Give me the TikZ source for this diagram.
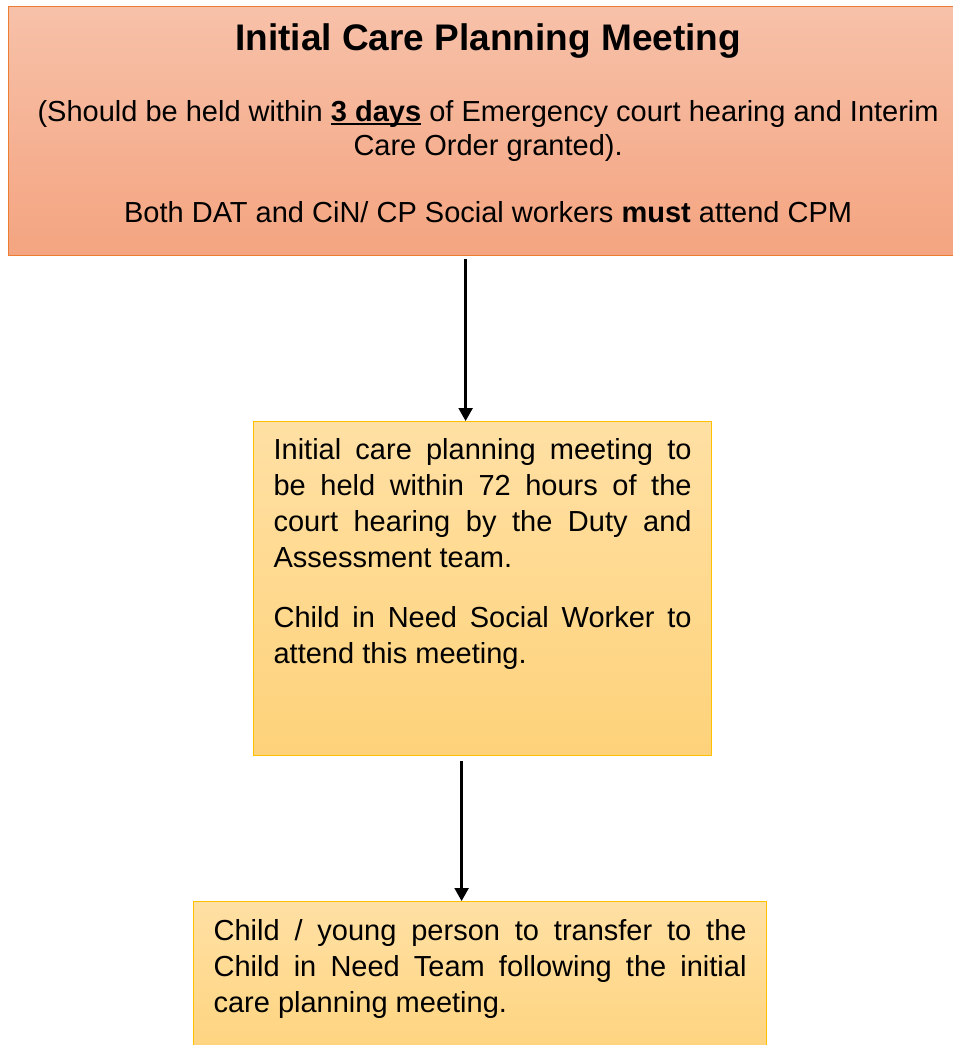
\documentclass[tikz,border=0pt]{standalone}
\usepackage{fontspec}
\setmainfont{Liberation Sans}
\usetikzlibrary{positioning,arrows.meta}
\definecolor{CPMLine}{HTML}{ED7D31}
\definecolor{CPMTop}{HTML}{F7C1A9}
\definecolor{CPMBottom}{HTML}{F4A480}
\definecolor{TaskLine}{HTML}{FFC000}
\definecolor{TaskTop}{HTML}{FFE0A4}
\definecolor{TaskBottom}{HTML}{FED27A}
\newcommand{\ulbold}[1]{\setbox0\hbox{\textbf{#1}}\rlap{\rule[-3.5pt]{\wd0}{2.2pt}}\box0\relax}

\begin{document}
\begin{tikzpicture}[x=1pt,y=-1pt,>={Triangle[length=13pt,width=14pt]},
 cpmbox/.style={draw=CPMLine,line width=1.2pt,top color=CPMTop,bottom color=CPMBottom,anchor=north west,inner xsep=0pt,inner ysep=0pt},
 taskbox/.style={draw=TaskLine,line width=1.2pt,top color=TaskTop,bottom color=TaskBottom,anchor=north west,inner xsep=20pt,inner ysep=0pt},
 flow/.style={->,line width=2.4pt}]
\useasboundingbox (0,0) rectangle (953,1045);
\clip (0,0) rectangle (953,1045);
% top box: the meeting itself
\node[cpmbox] (cpm) at (8,6) {\begin{minipage}[t][249pt][t]{959pt}\vspace*{0pt}\centering
 {\fontsize{37}{44}\selectfont\bfseries\rule{0pt}{44pt}Initial Care Planning Meeting\par}
 \vspace{37pt}
 {\fontsize{29}{34}\selectfont (Should be held within \ulbold{3 days} of Emergency court hearing and Interim\\Care Order granted).\par}
 \vspace{33pt}
 {\fontsize{29}{34}\selectfont Both DAT and CiN/ CP Social workers \textbf{must} attend CPM\par}
 \end{minipage}};
% second box: held by duty and assessment
\node[taskbox] (dat) at (253,421) {\begin{minipage}[t][334pt][t]{418pt}\vspace*{0pt}\tolerance=10000
 {\fontsize{29}{36}\selectfont\rule{0pt}{38pt}Initial care planning meeting to\linebreak be held within 72 hours of the\linebreak court hearing by the Duty and\linebreak Assessment team.\par}
 \vspace{24pt}
 {\fontsize{29}{36}\selectfont Child in Need Social Worker to\linebreak attend this meeting.\par}
 \end{minipage}};
% third box: transfer
\node[taskbox] (cin) at (193,901) {\begin{minipage}[t][170pt][t]{533pt}\vspace*{0pt}\tolerance=10000
 {\fontsize{29}{36}\selectfont\rule{0pt}{39pt}Child / young person to transfer to the\linebreak Child in Need Team following the initial\linebreak care planning meeting.\par}
 \end{minipage}};
\draw[flow] ([xshift=-22.5pt,yshift=-3pt]cpm.south) -- ([xshift=-17pt]dat.north);
\draw[flow] ([xshift=-21pt,yshift=-5pt]dat.south) -- ([xshift=-18.5pt]cin.north);
\end{tikzpicture}
\end{document}
